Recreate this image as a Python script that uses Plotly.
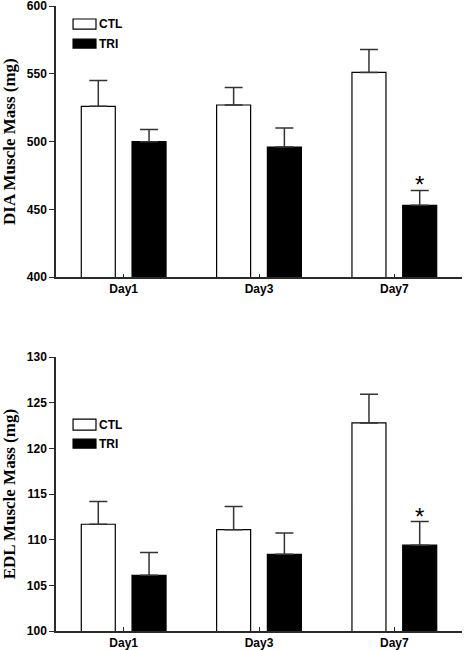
import plotly.graph_objects as go
from plotly.subplots import make_subplots

days = ["Day1", "Day3", "Day7"]
series = ["CTL", "TRI"]

dia_ctl = [526, 527, 551]
dia_ctl_err = [19, 13, 17]
dia_tri = [500, 496, 453]
dia_tri_err = [9, 14, 11]

edl_ctl = [111.7, 111.1, 122.8]
edl_ctl_err = [2.5, 2.55, 3.15]
edl_tri = [106.1, 108.4, 109.4]
edl_tri_err = [2.5, 2.35, 2.6]

dia_ticks = [400, 450, 500, 550, 600]
edl_ticks = [100, 105, 110, 115, 120, 125, 130]

fig = make_subplots(rows=2, cols=1, vertical_spacing=0.128)

ERR_COLOR = "#333333"
AX_COLOR = "#2a2a2a"


def add_bars(row, ctl, ctl_err, tri, tri_err):
    for name, vals, errs, fill in [("CTL", ctl, ctl_err, "white"), ("TRI", tri, tri_err, "black")]:
        fig.add_trace(
            go.Bar(
                x=days, y=vals, name=name, showlegend=False,
                marker=dict(color=fill, line=dict(color="black", width=1.2)),
                error_y=dict(type="data", array=errs, arrayminus=[0] * len(errs),
                             symmetric=False, color=ERR_COLOR, thickness=1.5, width=9),
            ),
            row=row, col=1,
        )


add_bars(1, dia_ctl, dia_ctl_err, dia_tri, dia_tri_err)
add_bars(2, edl_ctl, edl_ctl_err, edl_tri, edl_tri_err)

fig.update_layout(
    width=466, height=650,
    margin=dict(l=56, r=4, t=6, b=19),
    paper_bgcolor="white", plot_bgcolor="white",
    barmode="group", bargap=0.25, bargroupgap=0.33,
    font=dict(family="Liberation Sans, Arial", color="black"),
)

fig.update_layout(
    yaxis=dict(domain=[0.566, 1.0]),
    yaxis2=dict(domain=[0.0, 0.438]),
)

tick_font = dict(size=12, family="Liberation Sans, Arial", color="black", weight="bold")
axis_common = dict(showline=True, linecolor=AX_COLOR, linewidth=1.5, showgrid=False,
                   zeroline=False, automargin=False, ticklabeloverflow="allow")
for r in (1, 2):
    fig.update_xaxes(row=r, col=1, ticks="inside", ticklen=4, tickcolor=AX_COLOR, tickwidth=1.2,
                     tickfont=tick_font, range=[-0.5, 2.5], **axis_common)

title_font = dict(family="Liberation Serif, Times New Roman", size=17, color="black", weight="bold")
fig.update_yaxes(row=1, col=1, range=[400, 600], tickvals=dia_ticks, ticks="outside", ticklen=5,
                 tickcolor=AX_COLOR, tickwidth=1.2, tickfont=tick_font,
                 title=dict(text="DIA Muscle Mass (mg)", font=title_font, standoff=15),
                 **axis_common)
fig.update_yaxes(row=2, col=1, range=[100, 130], tickvals=edl_ticks, ticks="outside", ticklen=5,
                 tickcolor=AX_COLOR, tickwidth=1.2, tickfont=tick_font,
                 title=dict(text="EDL Muscle Mass (mg)", font=title_font, standoff=15),
                 **axis_common)

# Legends drawn as boxes + labels
legend_pos = {
    1: [(0.952, 0.915), (0.878, 0.845)],
    2: [(0.774, 0.734), (0.701, 0.668)],
}
fills = ["white", "black"]
for r in (1, 2):
    xs = "x domain" if r == 1 else "x2 domain"
    ys = "y domain" if r == 1 else "y2 domain"
    for (top, bot), fill, name in zip(legend_pos[r], fills, series):
        fig.add_shape(type="rect", xref=xs, yref=ys, x0=0.042, x1=0.0985, y0=bot, y1=top,
                      fillcolor=fill, line=dict(color="black", width=1.2))
        fig.add_annotation(xref=xs, yref=ys, x=0.101, y=(top + bot) / 2, text=name,
                           showarrow=False, xanchor="left", yanchor="middle",
                           font=dict(size=12, family="Liberation Sans, Arial", color="black",
                                     weight="bold"))

# Significance markers above TRI Day7
star_font = dict(size=24, family="Liberation Sans, Arial", color="black")
fig.add_annotation(xref="x", yref="y", x=days[2], y=dia_tri[2] + dia_tri_err[2], text="*",
                   showarrow=False, xshift=25, yanchor="bottom", yshift=-10, font=star_font)
fig.add_annotation(xref="x2", yref="y2", x=days[2], y=edl_tri[2] + edl_tri_err[2], text="*",
                   showarrow=False, xshift=25, yanchor="bottom", yshift=-10, font=star_font)

fig.write_html(
    "out.html",
    config={"displayModeBar": False},
    post_script="document.body.style.margin='0';document.body.style.overflow='hidden';",
)
